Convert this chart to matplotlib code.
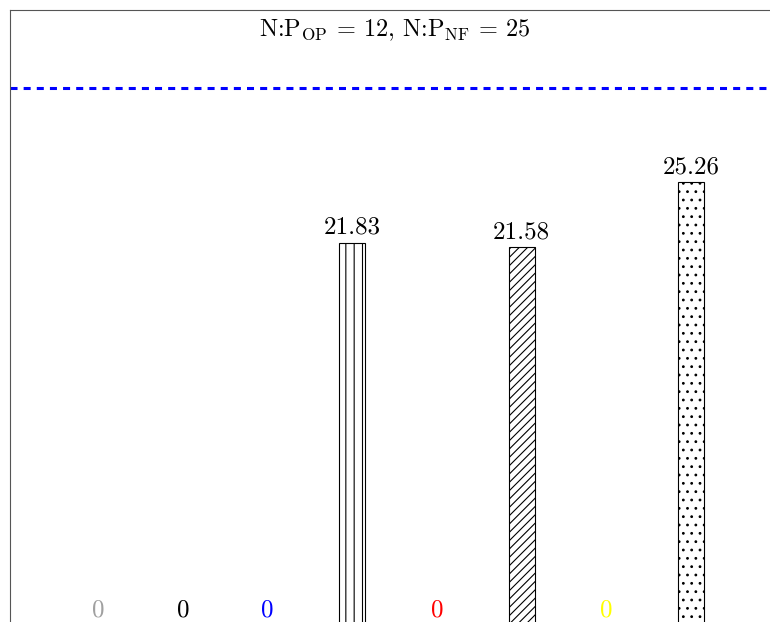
import matplotlib
matplotlib.use("Agg")
import matplotlib.pyplot as plt

# values
positions = [1, 2, 3, 4, 5, 6, 7, 8]
values = [0, 0, 0, 21.83, 0, 21.58, 0, 25.26]
label_colors = ["#a0a0a0", "black", "blue", "black", "red", "black", "yellow", "black"]
bar_hatches = [None, None, None, "||", None, "////", None, ".."]
threshold = 30.6
title = r"N:$\mathrm{P_{OP}}$ = 12, N:$\mathrm{P_{NF}}$ = 25"

plt.rcParams["font.family"] = "serif"
plt.rcParams["font.serif"] = ["cmr10", "DejaVu Serif"]
plt.rcParams["mathtext.fontset"] = "cm"
plt.rcParams["hatch.linewidth"] = 0.8
plt.rcParams["axes.unicode_minus"] = False

fig = plt.figure(figsize=(7.7, 6.22), dpi=100)
# axes runs past the right and bottom edges (reference is a crop)
ax = fig.add_axes([10 / 770, -7 / 622, 770 / 770, 619 / 622])

for x, v, h in zip(positions, values, bar_hatches):
    if v > 0:
        ax.bar(x, v, width=0.31, facecolor="white", edgecolor="black",
               linewidth=0.8, hatch=h)

for x, v, c in zip(positions, values, label_colors):
    txt = "0" if v == 0 else f"{v:.2f}"
    # zero labels nudged up a little so they stay inside the picture
    off = 5.6 if v == 0 else 3
    ax.annotate(txt, (x, v), xytext=(0, off), textcoords="offset points",
                ha="center", va="bottom", color=c, fontsize=18)

ax.axhline(threshold, color="blue", linewidth=2.2, linestyle=(0, (2.3, 2.0)))

ax.text(0.5, 1 - 20 / 619, title, transform=ax.transAxes, ha="center",
        va="center", fontsize=17.5)

ax.set_xlim(-0.04, 9.05)
ax.set_ylim(0, 35)
ax.set_xticks([])
ax.set_yticks([])
for s in ax.spines.values():
    s.set_color("#555555")
    s.set_linewidth(0.8)

fig.savefig("out.png", dpi=100)
